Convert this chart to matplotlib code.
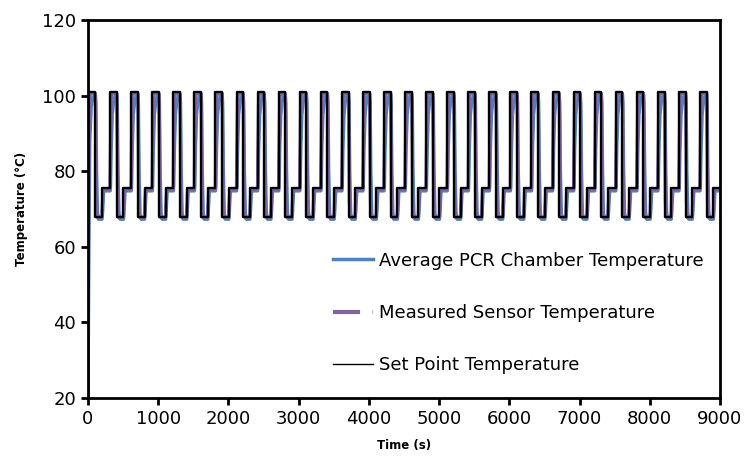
import numpy as np
import matplotlib
matplotlib.use('Agg')
import matplotlib.pyplot as plt
from matplotlib.lines import Line2D

# start time of each thermal cycle (s)
cycle_start = [315, 615, 915, 1215, 1515, 1815, 2115, 2415, 2715, 3015,
               3315, 3615, 3915, 4215, 4515, 4815, 5115, 5415, 5715, 6015,
               6315, 6615, 6915, 7215, 7515, 7815, 8115, 8415, 8715]

# first (initial denaturation) segment, 0..315 s
set_first_t = [0, 105, 105, 200, 200, 315]
set_first_T = [101, 101, 68, 68, 75.5, 75.5]
sensor_first_t = [0, 8, 20, 35, 105, 110, 118, 128, 200, 205, 215, 315]
sensor_first_T = [20, 70, 97, 100.6, 100.6, 95, 72, 67.8, 67.8, 71, 75.2, 75.2]
chamber_first_t = [0, 12, 25, 45, 70, 105, 112, 122, 135, 150, 200, 207, 222, 315]
chamber_first_T = [20, 60, 88, 97, 99.5, 100.3, 98, 80, 69, 67.3, 67.3, 69, 74.8, 74.8]

# one regular cycle, time offset from the cycle start
set_cyc_t = [0, 95, 95, 190, 190, 300]
set_cyc_T = [101, 101, 68, 68, 75.5, 75.5]
sensor_cyc_t = [3, 15, 30, 95, 100, 108, 118, 190, 195, 205, 300]
sensor_cyc_T = [82, 99, 100.6, 100.6, 95, 72, 67.8, 67.8, 71, 75.2, 75.2]
chamber_cyc_t = [5, 15, 30, 50, 75, 95, 102, 112, 125, 140, 190, 197, 212, 300]
chamber_cyc_T = [76, 86, 95, 98.5, 100, 100.3, 98, 80, 69, 67.3, 67.3, 69, 74.8, 74.8]

series_names = ['Average PCR Chamber Temperature',
                'Measured Sensor Temperature',
                'Set Point Temperature']


def build(first_t, first_T, cyc_t, cyc_T):
    t = list(first_t)
    T = list(first_T)
    for s in cycle_start:
        t += [s + o for o in cyc_t]
        T += list(cyc_T)
    return np.array(t), np.array(T)


chamber_t, chamber_T = build(chamber_first_t, chamber_first_T, chamber_cyc_t, chamber_cyc_T)
sensor_t, sensor_T = build(sensor_first_t, sensor_first_T, sensor_cyc_t, sensor_cyc_T)
set_t, set_T = build(set_first_t, set_first_T, set_cyc_t, set_cyc_T)

fig = plt.figure(figsize=(7.5, 4.61), dpi=100)
ax = fig.add_axes([0.1173, 0.1367, 0.8427, 0.82])

ax.plot(chamber_t, chamber_T, color='#4F81BD', lw=2.5)
# dense data: the dash-dot pattern of the sensor line closes up, so draw it solid
ax.plot(sensor_t, sensor_T, color='#8064A2', lw=2.4)
ax.plot(set_t, set_T, color='black', lw=1.7)

handles = [Line2D([], [], color='#4F81BD', lw=2.5),
           Line2D([], [], color='#8064A2', lw=3, linestyle=(0, (6.5, 3, 1.5, 3))),
           Line2D([], [], color='black', lw=1.0)]

ax.set_xlim(0, 9000)
ax.set_ylim(20, 120)
ax.set_xticks(np.arange(0, 9001, 1000))
ax.set_yticks(np.arange(20, 121, 20))
ax.tick_params(labelsize=13, width=2, length=5, direction='out')
for sp in ax.spines.values():
    sp.set_linewidth(2)

ax.set_xlabel('Time (s)', fontsize=8.5, fontweight='bold', labelpad=8)
ax.set_ylabel('Temperature (°C)', fontsize=8.5, fontweight='bold', labelpad=10)

ax.legend(handles, series_names, loc='lower right', bbox_to_anchor=(1.0, 0.02),
          frameon=False, fontsize=13, handlelength=2.2, handletextpad=0.35,
          labelspacing=1.9)

fig.savefig('out.png', dpi=100)
